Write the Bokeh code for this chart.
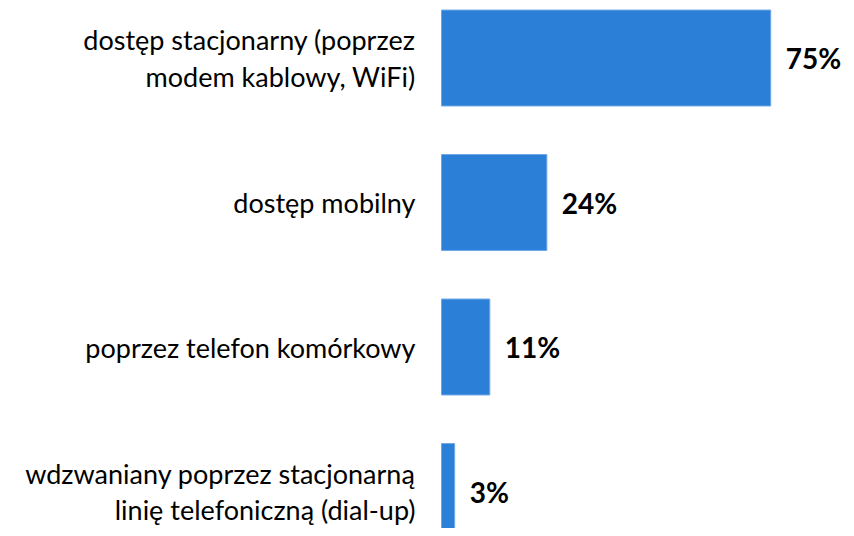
from bokeh.plotting import figure
from bokeh.models import ColumnDataSource, Range1d
from bokeh.core.properties import value
from bokeh.embed import file_html
from bokeh.resources import INLINE

categories = [
    "dostęp stacjonarny (poprzez\nmodem kablowy, WiFi)",
    "dostęp mobilny",
    "poprzez telefon komórkowy",
    "wdzwaniany poprzez stacjonarną\nlinię telefoniczną (dial-up)",
]
values = [75, 24, 11, 3]
labels = ["75%", "24%", "11%", "3%"]

pos = list(range(len(categories)))
src = ColumnDataSource(dict(y=pos, v=values, cat=categories, lab=labels, zero=[0] * len(pos)))

p = figure(width=846, height=528, output_backend="svg", toolbar_location=None,
           x_range=Range1d(-100.46, 92.26), y_range=Range1d(3.256, -0.398),
           min_border=0, outline_line_color=None)
p.axis.visible = False
p.grid.visible = False

p.hbar(y="y", left=0, right="v", height=0.664, source=src,
       fill_color="#2b7fd7", line_color="#6fa8e8", line_width=1)

p.text(x="zero", y="y", text="cat", source=src, x_offset=-26,
       text_align="right", text_baseline="middle",
       text_font=value("Lato"), text_font_size="27px", text_color="#000000",
       text_line_height=1.1)

p.text(x="v", y="y", text="lab", source=src, x_offset=15,
       text_align="left", text_baseline="middle",
       text_font=value("Lato"), text_font_size="28px", text_font_style="bold",
       text_color="#000000")

open("out.html", "w").write(file_html(p, INLINE))
